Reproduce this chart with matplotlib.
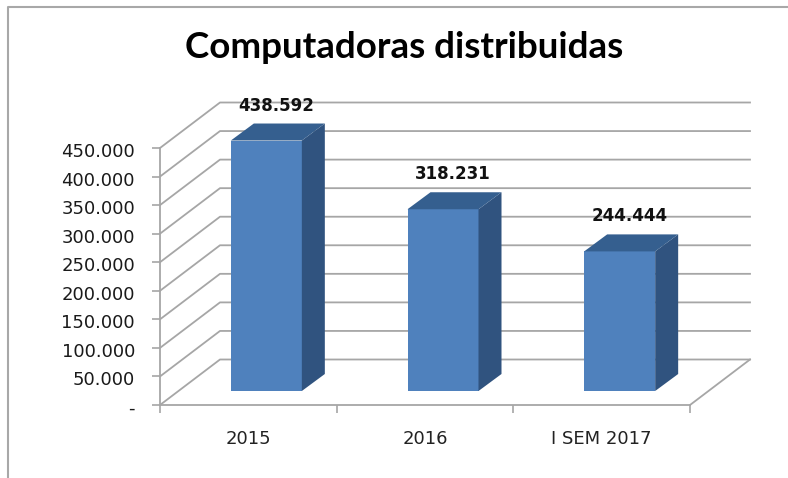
import matplotlib
matplotlib.use('Agg')
import matplotlib.pyplot as plt
from matplotlib.patches import Polygon
from matplotlib.transforms import ScaledTranslation

categories = ['2015', '2016', 'I SEM 2017']
values = [438592, 318231, 244444]
value_labels = ['438.592', '318.231', '244.444']
y_ticks = [0, 50000, 100000, 150000, 200000, 250000, 300000, 350000, 400000, 450000]
y_labels = ['-', '50.000', '100.000', '150.000', '200.000', '250.000',
            '300.000', '350.000', '400.000', '450.000']

W, H = 788, 478
plt.rcParams['font.family'] = ['DejaVu Sans']

fig = plt.figure(figsize=(W / 100, H / 100), dpi=100)
# front of the plot floor, in pixels: x 160-690, y 405 up to 148
ax = fig.add_axes([160 / W, 1 - 405 / H, 530 / W, 257 / H])
ax.set_xlim(-0.5, 2.5)
ax.set_ylim(0, 450000)
ax.patch.set_visible(False)

# depth of the fake 3D walls in data units
px_x = 3 / 530
px_y = 450000 / 257
wall_dx = 60 * px_x
wall_dy = 45.5 * px_y
grid_col = '#a6a6a6'

for t in y_ticks:
    ax.plot([-0.5, -0.5 + wall_dx, 2.5 + wall_dx], [t, t + wall_dy, t + wall_dy],
            color=grid_col, lw=1.3, clip_on=False, zorder=1)
ax.plot([2.5, 2.5 + wall_dx], [0, wall_dy], color=grid_col, lw=1.3, clip_on=False, zorder=1)

# bars
bar_w = 71 * px_x
off_x = 18 * px_x
off_y = 14 * px_y
dep_x = 23 * px_x
dep_y = 17 * px_y
for i, v in enumerate(values):
    x0 = i + off_x - bar_w / 2
    x1 = x0 + bar_w
    y0 = off_y
    y1 = off_y + v
    ax.add_patch(Polygon([(x0, y0), (x1, y0), (x1, y1), (x0, y1)], fc='#4f81bd', ec='none', zorder=3, clip_on=False))
    ax.add_patch(Polygon([(x1, y0), (x1 + dep_x, y0 + dep_y), (x1 + dep_x, y1 + dep_y), (x1, y1)],
                         fc='#30537f', ec='none', zorder=3, clip_on=False))
    ax.add_patch(Polygon([(x0, y1), (x1, y1), (x1 + dep_x, y1 + dep_y), (x0 + dep_x, y1 + dep_y)],
                         fc='#355f8f', ec='none', zorder=3, clip_on=False))
    ax.text(i + off_x + 10 * px_x, y1 + dep_y + 18 * px_y, value_labels[i], ha='center', va='center',
            fontsize=12, fontweight='bold', color='#111111', zorder=4, clip_on=False)

for s in ['top', 'right']:
    ax.spines[s].set_visible(False)
for s in ['left', 'bottom']:
    ax.spines[s].set_color(grid_col)
    ax.spines[s].set_linewidth(1.3)

ax.set_yticks(y_ticks)
ax.set_yticklabels(y_labels, fontsize=13, color='#1a1a1a')
ax.tick_params(axis='y', length=6, width=1.2, color=grid_col, pad=12)
# labels sit a little under their ticks in the original
shift = ScaledTranslation(0, -2 / 100, fig.dpi_scale_trans)
for lab in ax.get_yticklabels():
    lab.set_transform(lab.get_transform() + shift)
ax.set_xticks([0, 1, 2])
ax.set_xticklabels(categories, fontsize=13, color='#222222')
ax.set_xticks([-0.5, 0.5, 1.5, 2.5], minor=True)
ax.tick_params(axis='x', which='major', length=0, pad=18)
ax.tick_params(axis='x', which='minor', length=6, width=1.2, color=grid_col)

fig.text(404 / W, 1 - 48 / H, 'Computadoras distribuidas', ha='center', va='center',
         fontsize=26.5, fontweight='bold', color='black', family='Lato')

# outer chart border, open at the right and the bottom
fig.add_artist(plt.Line2D([7.5 / W, 7.5 / W, 1], [0, 1 - 7 / H, 1 - 7 / H], color='#a8a8a8', lw=1.5))

fig.savefig('out.png', dpi=100)
